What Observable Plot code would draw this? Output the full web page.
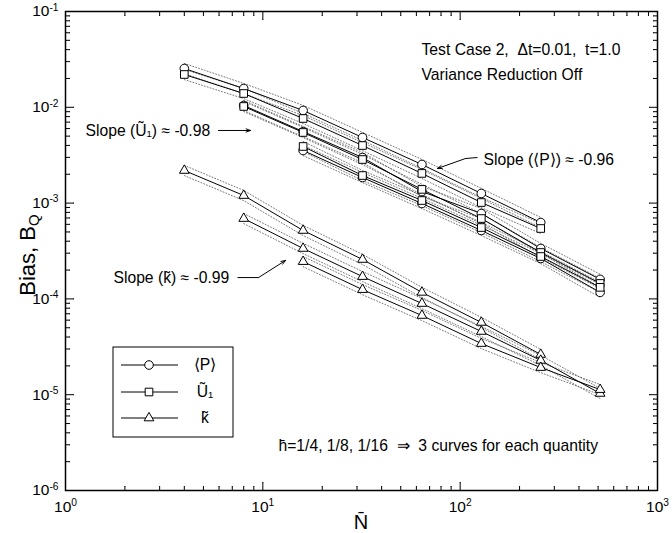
<!DOCTYPE html>
<html><head><meta charset="utf-8">
<script src="https://cdn.jsdelivr.net/npm/d3@7"></script>
<script src="https://cdn.jsdelivr.net/npm/@observablehq/plot@0.6"></script>
<style>
body{margin:0;background:#fff;}
svg{display:block;}
</style>
</head><body><div id="chart"></div>
<script>
// ---- N values of each h curve ----
const N_h4 = [4, 8, 16, 32, 64, 128, 256];
const N_h8 = [8, 16, 32, 64, 128, 256, 512];
const N_h16 = [16, 32, 64, 128, 256, 512];

// ---- Bias values ----
const P_h4 = [0.0254, 0.0157, 0.00927, 0.00484, 0.00253, 0.00126, 0.000627];
const P_h8 = [0.01045, 0.00558, 0.00299, 0.00132, 0.000778, 0.000336, 0.00016];
const P_h16 = [0.00354, 0.00185, 0.000991, 0.000518, 0.000264, 0.000117];
const U1_h4 = [0.0220, 0.01393, 0.00764, 0.00399, 0.00204, 0.001014, 0.000543];
const U1_h8 = [0.0102, 0.00546, 0.00285, 0.00139, 0.00069, 0.000305, 0.000145];
const U1_h16 = [0.0039, 0.00194, 0.001064, 0.000556, 0.000277, 0.000132];
const k_h4 = [0.00219, 0.0012, 0.000518, 0.000258, 0.000117, 0.0000568, 0.0000263];
const k_h8 = [0.00069, 0.000336, 0.000171, 0.0000895, 0.0000457, 0.0000228, 0.0000103];
const k_h16 = [0.000245, 0.000125, 0.0000671, 0.0000342, 0.0000192, 0.0000113];

// dotted bounds sit about this factor above / below each curve
const bandFactor = 1.13;

// ---- legend / quantities ----
const quantities = ["P", "U1", "k"];
const quantityLabels = ["\u27E8P\u27E9", "U\u0303\u2081", "k\u0303"];
const quantitySymbols = ["circle", "square", "triangle"];

// ---- tick values ----
const xMajor = [1, 10, 100, 1000];
const yMajor = [1e-6, 1e-5, 1e-4, 1e-3, 1e-2, 1e-1];
const mult = [2, 3, 4, 5, 6, 7, 8, 9];
const xMinor = [1, 10, 100].flatMap(d => mult.map(m => m * d));
const yMinor = [1e-6, 1e-5, 1e-4, 1e-3, 1e-2].flatMap(d => mult.map(m => m * d));

// ---- annotations (positions in data units) ----
const noteText = [
  "Test Case 2,  \u0394t=0.01,  t=1.0",
  "Variance Reduction Off",
  "Slope (\u0168\u2081) \u2248 -0.98",
  "Slope (\u27E8P\u27E9) \u2248 -0.96",
  "Slope (k\u0303) \u2248 -0.99",
  "h\u0304=1/4, 1/8, 1/16  \u21D2  3 curves for each quantity"
];
const noteN = [63.7, 63.7, 1.263, 131.3, 1.75, 12.0];
const noteB = [0.0400, 0.0218, 0.00573, 0.00279, 0.000167, 2.95e-6];

// leader segments (no head) and arrows (with head)
const leaderN1 = [122.4, 7.44];
const leaderB1 = [0.00299, 0.000167];
const leaderN2 = [106.4, 9.51];
const leaderB2 = [0.00292, 0.000167];
const arrowN1 = [5.96, 106.4, 9.51];
const arrowB1 = [0.00573, 0.00292, 0.000167];
const arrowN2 = [8.66, 76.8, 13.03];
const arrowB2 = [0.00573, 0.0023, 0.000252];

const series = [
  {q: "P", h: "1/4", N: N_h4, B: P_h4},
  {q: "P", h: "1/8", N: N_h8, B: P_h8},
  {q: "P", h: "1/16", N: N_h16, B: P_h16},
  {q: "U1", h: "1/4", N: N_h4, B: U1_h4},
  {q: "U1", h: "1/8", N: N_h8, B: U1_h8},
  {q: "U1", h: "1/16", N: N_h16, B: U1_h16},
  {q: "k", h: "1/4", N: N_h4, B: k_h4},
  {q: "k", h: "1/8", N: N_h8, B: k_h8},
  {q: "k", h: "1/16", N: N_h16, B: k_h16}
];
const rows = series.flatMap(s => s.N.map((n, i) => ({q: s.q, h: s.h, key: s.q + s.h, N: n, B: s.B[i]})));

const font = "'Liberation Sans', Arial, Helvetica, sans-serif";
const tickFmt = d => String(Math.round(Math.log10(d)));
const tickVec = (data, opts) => Plot.vector(data, {anchor: "start", r: 0, stroke: "black", strokeWidth: 1, ...opts});

const marks = [
  Plot.line(rows, {x: "N", y: d => d.B * bandFactor, z: "key", stroke: "#555", strokeWidth: 0.8, strokeDasharray: "1,2"}),
  Plot.line(rows, {x: "N", y: d => d.B / bandFactor, z: "key", stroke: "#555", strokeWidth: 0.8, strokeDasharray: "1,2"}),
  Plot.line(rows, {x: "N", y: "B", z: "key", stroke: "black", strokeWidth: 1})
];
quantities.forEach((q, i) => {
  marks.push(Plot.dot(rows.filter(d => d.q === q), {
    x: "N", y: "B", symbol: quantitySymbols[i], r: quantitySymbols[i] === "triangle" ? 3.6 : 4.3,
    fill: "white", stroke: "black", strokeWidth: 1
  }));
});
marks.push(
  // ticks, inward on all four sides
  tickVec(xMajor, {x: d => d, frameAnchor: "bottom", rotate: 0, length: 8}),
  tickVec(xMinor, {x: d => d, frameAnchor: "bottom", rotate: 0, length: 4}),
  tickVec(xMajor, {x: d => d, frameAnchor: "top", rotate: 180, length: 8}),
  tickVec(xMinor, {x: d => d, frameAnchor: "top", rotate: 180, length: 4}),
  tickVec(yMajor, {y: d => d, frameAnchor: "left", rotate: 90, length: 8}),
  tickVec(yMinor, {y: d => d, frameAnchor: "left", rotate: 90, length: 4}),
  tickVec(yMajor, {y: d => d, frameAnchor: "right", rotate: -90, length: 8}),
  tickVec(yMinor, {y: d => d, frameAnchor: "right", rotate: -90, length: 4}),
  Plot.axisX({ticks: xMajor, tickSize: 0, tickPadding: 10, tickFormat: tickFmt, fontSize: 15.5, label: null}),
  Plot.axisY({ticks: yMajor, tickSize: 0, tickPadding: 7, tickFormat: tickFmt, fontSize: 15.5, label: null}),
  Plot.text(noteText, {x: (d, i) => noteN[i], y: (d, i) => noteB[i], text: d => d, textAnchor: "start", fontSize: 15.7, fill: "black"}),
  Plot.link(leaderN1, {x1: d => d, y1: (d, i) => leaderB1[i], x2: (d, i) => leaderN2[i], y2: (d, i) => leaderB2[i], stroke: "black", strokeWidth: 1}),
  Plot.arrow(arrowN1, {x1: d => d, y1: (d, i) => arrowB1[i], x2: (d, i) => arrowN2[i], y2: (d, i) => arrowB2[i], stroke: "black", strokeWidth: 1, headLength: 7, headAngle: 40}),
  Plot.frame({stroke: "black", strokeWidth: 1.5})
);

const chart = Plot.plot({
  width: 672, height: 533,
  marginLeft: 65, marginRight: 15, marginTop: 11, marginBottom: 43,
  style: {fontFamily: font, background: "white", color: "black"},
  x: {type: "log", domain: [1, 1000], label: null},
  y: {type: "log", domain: [1e-6, 1e-1], label: null},
  marks
});
document.getElementById("chart").appendChild(chart);

const svg = d3.select(chart);
// superscript exponents on tick labels
svg.selectAll('g[aria-label="x-axis tick label"] text, g[aria-label="y-axis tick label"] text').each(function () {
  const t = d3.select(this);
  const e = t.text();
  t.text(null);
  t.append("tspan").text("10");
  t.append("tspan").attr("dy", "-0.55em").attr("font-size", "0.66em").text(e);
});

// axis titles
const yl = svg.append("text").attr("transform", "translate(27,255) rotate(-90)")
  .attr("text-anchor", "middle").attr("font-family", font).attr("font-size", 22).attr("dy", "0.35em");
yl.append("tspan").text("Bias, B");
yl.append("tspan").attr("dy", "0.3em").attr("font-size", 15).text("Q");
svg.append("text").attr("x", 361).attr("y", 522).attr("dy", "0.35em").attr("text-anchor", "middle")
  .attr("font-family", font).attr("font-size", 20).text("N\u0304");

// legend
const lg = svg.append("g");
lg.append("rect").attr("x", 113).attr("y", 347).attr("width", 120).attr("height", 90)
  .attr("fill", "white").attr("stroke", "black").attr("stroke-width", 1);
const legY = [365, 392, 418];
const symMap = {circle: d3.symbolCircle, square: d3.symbolSquare, triangle: d3.symbolTriangle};
quantities.forEach((q, i) => {
  lg.append("line").attr("x1", 121).attr("x2", 178).attr("y1", legY[i]).attr("y2", legY[i]).attr("stroke", "black");
  const rr = quantitySymbols[i] === "triangle" ? 3.6 : 4.3;
  lg.append("path").attr("d", d3.symbol(symMap[quantitySymbols[i]], Math.PI * rr * rr)())
    .attr("transform", `translate(149,${legY[i]})`).attr("fill", "white").attr("stroke", "black");
  lg.append("text").attr("x", 205).attr("y", legY[i]).attr("dy", "0.35em").attr("font-family", font)
    .attr("font-size", 15.7).text(quantityLabels[i]);
});
</script>
</body></html>
